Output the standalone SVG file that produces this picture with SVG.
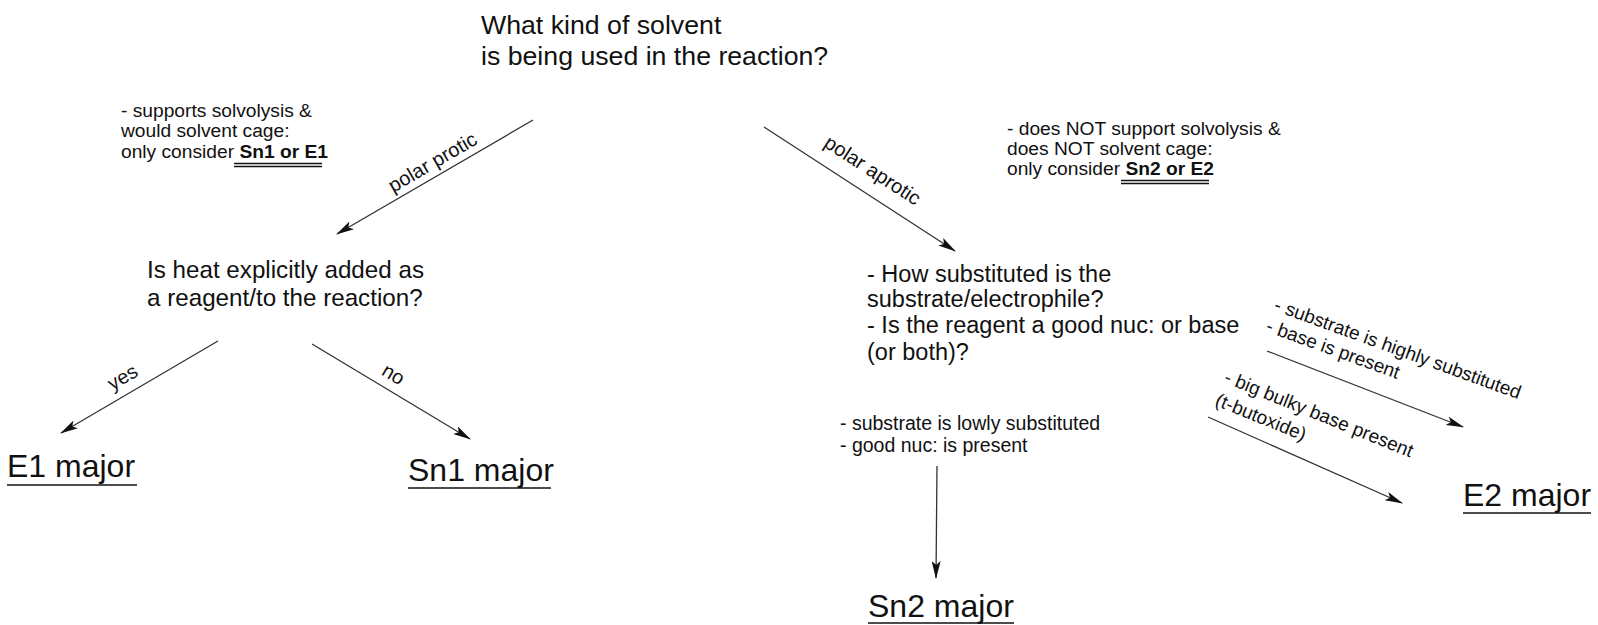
<svg xmlns="http://www.w3.org/2000/svg" width="1598" height="625" viewBox="0 0 1598 625">
<style>
text{font-family:"Liberation Sans",Arial,sans-serif;fill:#111}
.t{font-size:26.7px}
.q{font-size:23.5px}
.n{font-size:19.2px}
.m{font-size:32px}
.l{font-size:20px}
.s{font-size:19px}
.b{font-weight:bold}
.c{stroke:#333;stroke-width:1.3;fill:none;marker-end:url(#ah)}
.u{stroke:#111;stroke-width:1.5}
</style>
<defs>
<marker id="ah" viewBox="0 0 18 9" refX="17" refY="4.5" markerWidth="18" markerHeight="9" markerUnits="userSpaceOnUse" orient="auto">
<path d="M0,0 L18,4.5 L0,9 L4,4.5 z" fill="#111"/>
</marker>
</defs>
<rect width="1598" height="625" fill="#fff"/>
<g id="connectors">
<line class="c" x1="533" y1="120" x2="337" y2="234"/>
<line class="c" x1="764" y1="127" x2="955" y2="251"/>
<line class="c" x1="218" y1="341" x2="61" y2="433"/>
<line class="c" x1="312" y1="344" x2="470" y2="439"/>
<line class="c" x1="1267" y1="351" x2="1463" y2="427"/>
<line class="c" x1="1208" y1="417" x2="1402" y2="503"/>
<line class="c" x1="937" y1="466" x2="936" y2="578"/>
<text class="l" transform="translate(436,168) rotate(-30.2)" text-anchor="middle">polar protic</text>
<text class="l" transform="translate(869,176) rotate(33)" text-anchor="middle">polar aprotic</text>
<text class="l" transform="translate(126,383) rotate(-30.4)" text-anchor="middle">yes</text>
<text class="l" transform="translate(390,380) rotate(31)" text-anchor="middle">no</text>
<text class="s" transform="translate(1273,310) rotate(20)">- substrate is highly substituted</text>
<text class="s" transform="translate(1265,331) rotate(20)">- base is present</text>
<text class="s" transform="translate(1223,382) rotate(22)">- big bulky base present</text>
<text class="s" transform="translate(1214,405) rotate(22)">(t-butoxide)</text>
<text class="s" x="840" y="430" style="font-size:19.5px">- substrate is lowly substituted</text>
<text class="s" x="840" y="452" style="font-size:19.5px">- good nuc: is present</text>
</g>
<g id="root">
<text class="t" x="481" y="34">What kind of solvent</text>
<text class="t" x="481" y="65">is being used in the reaction?</text>
</g>
<g id="note-protic">
<text class="n" x="121" y="117">- supports solvolysis &amp;</text>
<text class="n" x="121" y="137">would solvent cage:</text>
<text class="n" x="121" y="158">only consider <tspan class="b">Sn1 or E1</tspan></text>
<line class="u" x1="234" y1="163.5" x2="322" y2="163.5"/>
<line class="u" x1="234" y1="166.5" x2="322" y2="166.5"/>
</g>
<g id="note-aprotic">
<text class="n" x="1007" y="135">- does NOT support solvolysis &amp;</text>
<text class="n" x="1007" y="155">does NOT solvent cage:</text>
<text class="n" x="1007" y="175">only consider <tspan class="b">Sn2 or E2</tspan></text>
<line class="u" x1="1121" y1="180.5" x2="1209" y2="180.5"/>
<line class="u" x1="1121" y1="183.5" x2="1209" y2="183.5"/>
</g>
<g id="heat">
<text class="q" x="147" y="278" style="font-size:24.2px">Is heat explicitly added as</text>
<text class="q" x="147" y="306" style="font-size:24.2px">a reagent/to the reaction?</text>
</g>
<g id="subst">
<text class="q" x="867" y="282">- How substituted is the</text>
<text class="q" x="867" y="307">substrate/electrophile?</text>
<text class="q" x="867" y="333">- Is the reagent a good nuc: or base</text>
<text class="q" x="867" y="360">(or both)?</text>
</g>
<g id="e1">
<text class="m" x="7" y="477">E1 major</text>
<line class="u" x1="7" y1="485" x2="137" y2="485"/>
</g>
<g id="sn1">
<text class="m" x="408" y="481">Sn1 major</text>
<line class="u" x1="408" y1="488" x2="551" y2="488"/>
</g>
<g id="sn2">
<text class="m" x="868" y="617">Sn2 major</text>
<line class="u" x1="868" y1="623" x2="1014" y2="623"/>
</g>
<g id="e2">
<text class="m" x="1463" y="506">E2 major</text>
<line class="u" x1="1463" y1="513" x2="1591" y2="513"/>
</g>
</svg>
